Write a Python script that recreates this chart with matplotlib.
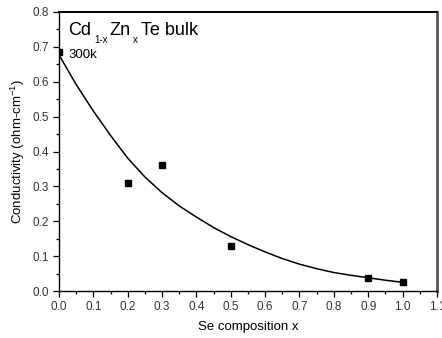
import numpy as np
import matplotlib
matplotlib.use("Agg")
import matplotlib.pyplot as plt
from matplotlib.ticker import MultipleLocator

plt.rcParams['font.family'] = ['Liberation Sans', 'DejaVu Sans']
plt.rcParams['mathtext.fontset'] = 'custom'
plt.rcParams['mathtext.rm'] = 'Liberation Sans'
plt.rcParams['mathtext.default'] = 'regular'

# measured points
se_x = [0.0, 0.2, 0.3, 0.5, 0.9, 1.0]
cond = [0.686, 0.310, 0.361, 0.130, 0.037, 0.025]

# fitted curve, every 0.05
fit_x = [0.0, 0.05, 0.1, 0.15, 0.2, 0.25, 0.3, 0.35, 0.4, 0.45, 0.5,
         0.55, 0.6, 0.65, 0.7, 0.75, 0.8, 0.85, 0.9, 0.95, 1.0]
fit_y = [0.677, 0.592, 0.516, 0.446, 0.381, 0.327, 0.282, 0.244, 0.212, 0.182, 0.156,
         0.133, 0.112, 0.093, 0.077, 0.064, 0.053, 0.045, 0.038, 0.031, 0.025]

fig = plt.figure(figsize=(4.42, 3.38), dpi=100)
ax = fig.add_axes([0.1335, 0.139, 0.855, 0.8255])

ax.plot(fit_x, fit_y, color='black', lw=1.1)
ax.plot(se_x, cond, 's', color='black', ms=5)

ax.set_xlim(0, 1.1)
ax.set_ylim(0, 0.8)
ax.xaxis.set_major_locator(MultipleLocator(0.1))
ax.xaxis.set_minor_locator(MultipleLocator(0.05))
ax.yaxis.set_major_locator(MultipleLocator(0.1))
ax.yaxis.set_minor_locator(MultipleLocator(0.05))
ax.xaxis.set_major_formatter(plt.FormatStrFormatter('%.1f'))
ax.yaxis.set_major_formatter(plt.FormatStrFormatter('%.1f'))
ax.tick_params(which='both', direction='out', top=False, right=False,
               labelsize=8.5, labelcolor='#333333', width=0.9)
ax.tick_params(which='major', length=4, pad=3)
ax.tick_params(which='minor', length=2.5)

ax.spines['left'].set_linewidth(1.0)
ax.spines['bottom'].set_linewidth(1.0)
ax.spines['top'].set_linewidth(1.4)
ax.spines['right'].set_linewidth(2.0)
ax.spines['right'].set_color('#555555')

ax.set_xlabel('Se composition x', fontsize=9.5, labelpad=6)
ax.set_ylabel('Conductivity (ohm-cm$^{-1}$)', fontsize=9.5, labelpad=4)

# title with small subscripts, pieces chained left to right
# (text, is subscript, gap before it in points)
pieces = [('1-x', True, 2.5), ('Zn', False, 1.0), ('x', True, 1.5), ('Te bulk', False, 2.5)]
base_y = 0.9176
sub_y = 0.889
prev = ax.text(0.0238, base_y, 'Cd', transform=ax.transAxes,
               fontsize=13, va='baseline', ha='left')
for txt, is_sub, gap in pieces:
    prev = ax.annotate(txt, xy=(1, sub_y if is_sub else base_y),
                       xycoords=(prev, 'axes fraction'),
                       xytext=(gap, 0), textcoords='offset points',
                       fontsize=7 if is_sub else 13,
                       va='baseline', ha='left')

ax.text(0.0238, 0.834, '300k', transform=ax.transAxes,
        fontsize=9.5, va='baseline', ha='left')

fig.savefig('out.png', dpi=100)
